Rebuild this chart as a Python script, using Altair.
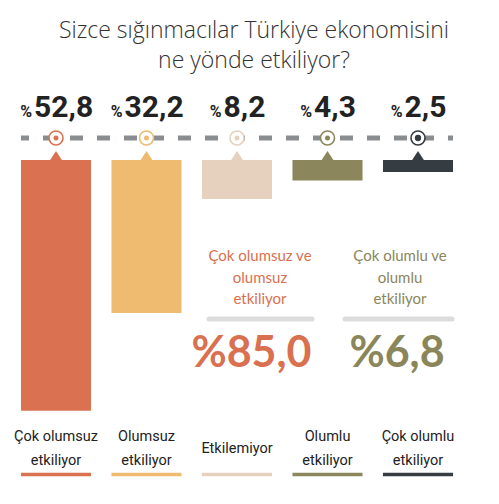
import altair as alt
import pandas as pd

# ---- data ----
categories = ["Çok olumsuz\netkiliyor", "Olumsuz\netkiliyor", "Etkilemiyor",
              "Olumlu\netkiliyor", "Çok olumlu\netkiliyor"]
values = [52.8, 32.2, 8.2, 4.3, 2.5]
value_labels = ["52,8", "32,2", "8,2", "4,3", "2,5"]
colors = ["#da7252", "#efbb70", "#e5d1be", "#8b865b", "#353c42"]
title_lines = ["Sizce sığınmacılar Türkiye ekonomisini", "ne yönde etkiliyor?"]
summary_texts = ["Çok olumsuz ve\nolumsuz\netkiliyor", "Çok olumlu ve\nolumlu\netkiliyor"]
summary_values = ["%85,0", "%6,8"]
summary_colors = ["#d9704f", "#8b865a"]

df = pd.DataFrame({
    "idx": list(range(len(categories))),
    "cat": categories,
    "value": values,
    "label": value_labels,
    "color": colors,
})

COND = "Roboto"
W, H = 483, 480
PX = 90.5   # px per category step
HW = 0.387  # half bar width in steps
xs = alt.Scale(domain=[-0.5304, -0.5304 + W / PX])
ys = alt.Scale(domain=[-32, -32 + H / 4.75], reverse=True)
col = alt.Color("color:N", scale=None, legend=None)

base = alt.Chart(df).transform_calculate(
    x0=f"datum.idx - {HW}", x1=f"datum.idx + {HW}"
)

bars = base.mark_rect().encode(
    x=alt.X("x0:Q", scale=xs, axis=None), x2="x1:Q",
    y=alt.Y("zero:Q", scale=ys, axis=None), y2="value:Q",
    color=col,
).transform_calculate(zero="0")

tri = base.mark_point(
    shape="M-1,0.25L1,0.25L0,-1.3Z", size=196, filled=True, opacity=1
).encode(
    x=alt.X("idx:Q", scale=xs, axis=None),
    y=alt.Y("zero:Q", scale=ys, axis=None),
    color=col,
).transform_calculate(zero="0")

dash = base.transform_aggregate(
    a="min(x0)", b="max(x1)"
).mark_rule(strokeWidth=5, color="#8a8d90", strokeDash=[13, 14], strokeDashOffset=5).encode(
    x=alt.X("a:Q", scale=xs, axis=None), x2="b:Q", y=alt.value(130)
)

ring = base.mark_point(shape="circle", size=196, filled=True, fill="white",
                       strokeWidth=1.6, opacity=1).encode(
    x=alt.X("idx:Q", scale=xs, axis=None), y=alt.value(130),
    stroke=alt.Stroke("color:N", scale=None, legend=None),
)
dot = base.mark_point(shape="circle", filled=True, opacity=1).encode(
    x=alt.X("idx:Q", scale=xs, axis=None), y=alt.value(130),
    color=col,
    size=alt.condition("datum.idx == 4", alt.value(40), alt.value(25)),
)

# label group: small "%" + big number, centred over each bar
NFS, PFS = 30, 16
DIG, COM, PW, GAP = 0.562 * NFS, 0.23 * NFS, 0.73 * PFS, 2
grp = f"({PW} + {GAP} + {DIG}*(length(datum.label)-1) + {COM})"
lab = base.transform_calculate(
    px_=f"datum.idx + (-{grp}/2 + {PW})/{PX}",
    nx_=f"datum.idx + (-{grp}/2 + {PW} + {GAP})/{PX}",
)
pct = lab.mark_text(align="right", baseline="alphabetic", font=COND,
                    fontWeight="bold", fontSize=PFS, color="#222").encode(
    x=alt.X("px_:Q", scale=xs, axis=None), y=alt.value(109), text=alt.value("%"))
num = lab.mark_text(align="left", baseline="alphabetic", font=COND,
                    fontWeight="bold", fontSize=NFS, color="#222").encode(
    x=alt.X("nx_:Q", scale=xs, axis=None), y=alt.value(109), text="label:N")

catlab = base.transform_calculate(
    ty="indexof(datum.cat, '\\n') >= 0 ? 433 : 445"
).mark_text(align="center", baseline="alphabetic", lineBreak="\n", lineHeight=24,
            font=COND, fontSize=14.5, color="#222").encode(
    x=alt.X("idx:Q", scale=xs, axis=None),
    y=alt.Y("ty:Q", scale=None, axis=None), text="cat:N")

under = base.mark_rule(strokeWidth=3.5).encode(
    x=alt.X("x0:Q", scale=xs, axis=None), x2="x1:Q", y=alt.value(466.5), color=col)

title = alt.Chart(pd.DataFrame({"t": ["\n".join(title_lines)]})).mark_text(
    align="center", baseline="alphabetic", lineBreak="\n", lineHeight=29.5,
    font="Open Sans", fontWeight=300, fontSize=23, color="#333"
).encode(x=alt.value(246), y=alt.value(30), text="t:N")

layers = [bars, tri, dash, ring, dot, pct, num, catlab, under, title]

sum_pos = [(252, 201, 304, 243.5), (392, 337, 444, 389)]
for t, v, c, (tx, r0, r1, vx) in zip(summary_texts, summary_values, summary_colors, sum_pos):
    sd = pd.DataFrame({"t": [t], "v": [v]})
    layers.append(alt.Chart(sd).mark_text(
        align="center", baseline="alphabetic", lineBreak="\n", lineHeight=21.5,
        font="Lato", fontSize=15, color=c).encode(
        x=alt.value(tx), y=alt.value(253), text="t:N"))
    layers.append(alt.Chart(sd).mark_rule(strokeWidth=5, strokeCap="round", color="#dcdcdc").encode(
        x=alt.value(r0), x2=alt.value(r1), y=alt.value(311)))
    layers.append(alt.Chart(sd).mark_text(
        align="center", baseline="alphabetic", font="Lato", fontWeight="bold",
        fontSize=43, color=c).encode(
        x=alt.value(vx), y=alt.value(359), text="v:N"))

chart = alt.layer(*layers).properties(
    width=W, height=H, padding=0, autosize=alt.AutoSizeParams(type="none"),
    background="white"
).configure_view(stroke=None)

chart.save("out.html", embed_options={"renderer": "svg", "actions": False})
